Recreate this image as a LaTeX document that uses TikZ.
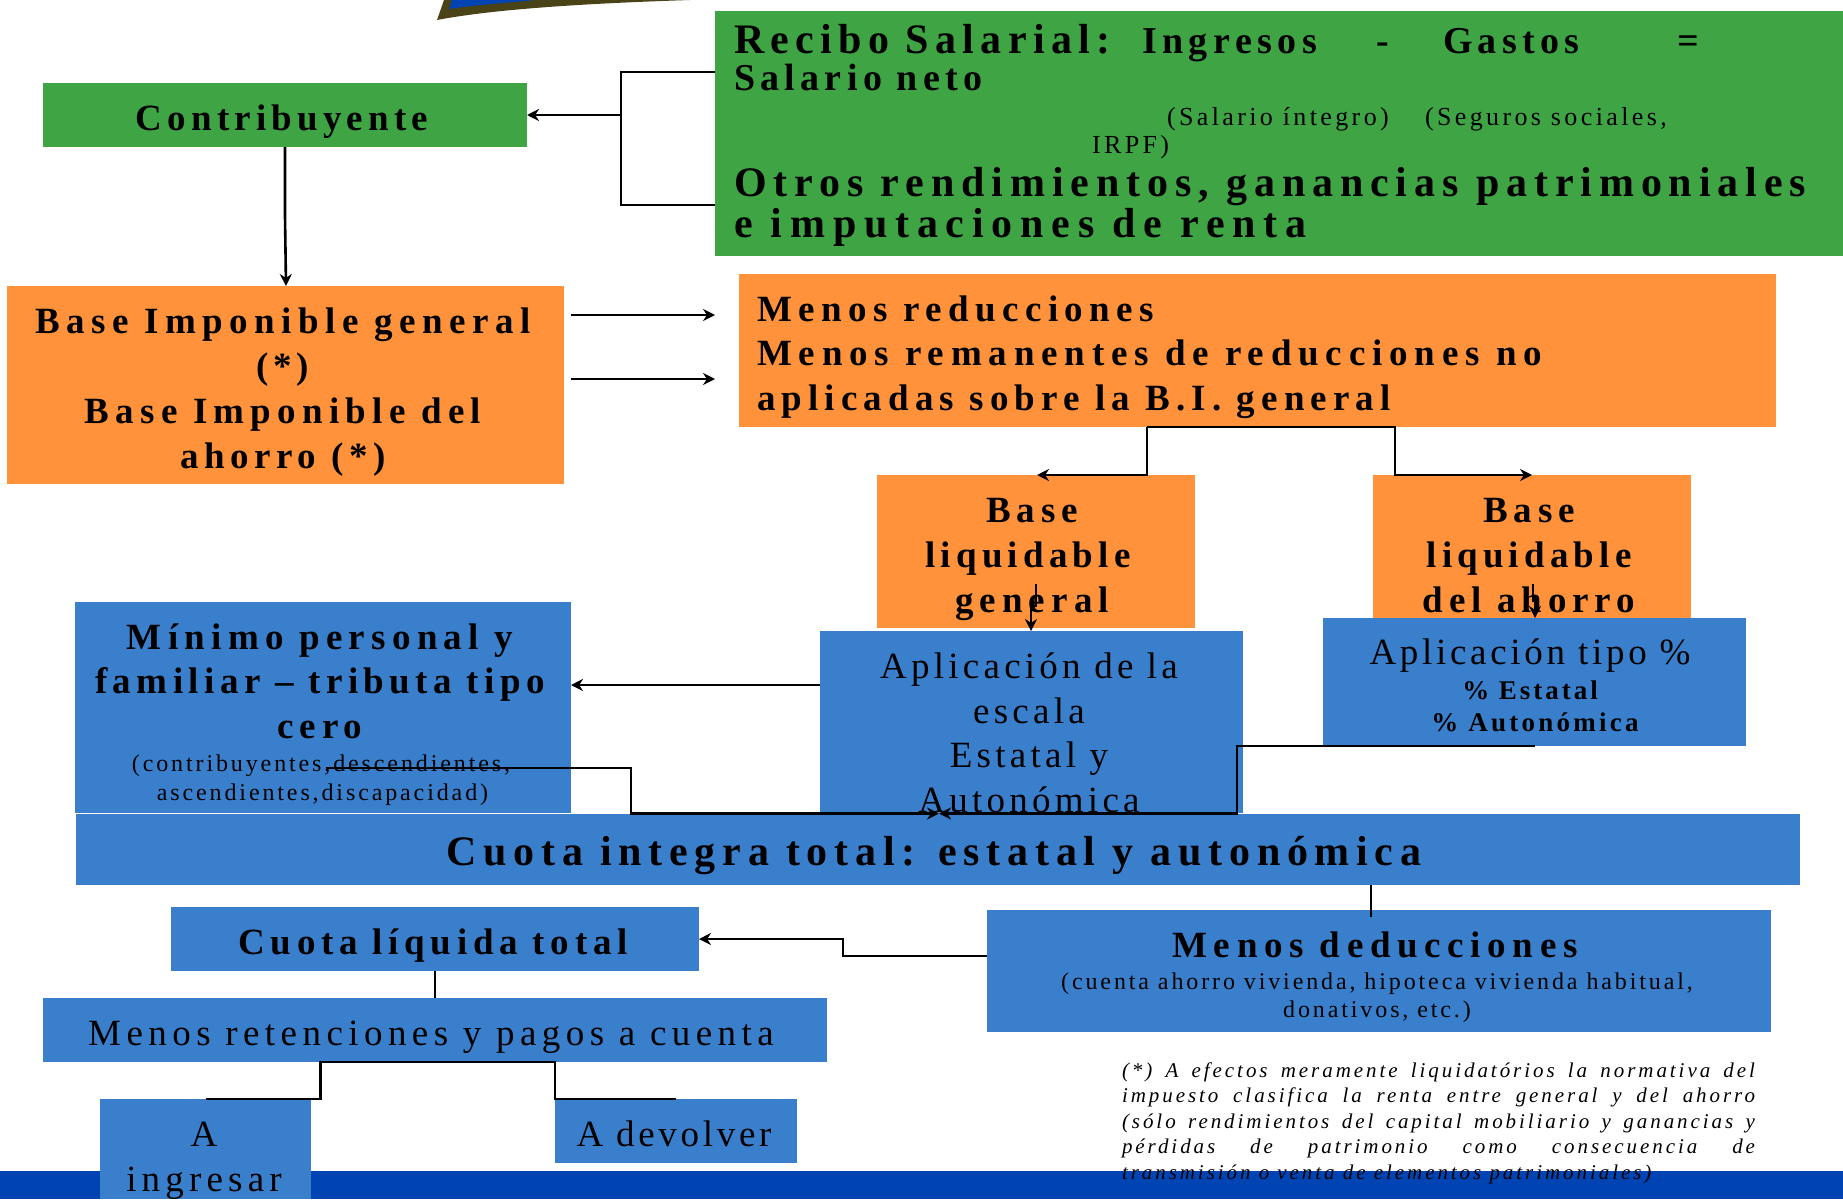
\documentclass[tikz,border=0pt]{standalone}
\usepackage{fontspec}
\setmainfont{Liberation Serif}
\usetikzlibrary{arrows.meta}
\definecolor{cgreen}{RGB}{63,164,68}
\definecolor{corange}{RGB}{255,146,58}
\definecolor{cblue}{RGB}{58,127,204}
\definecolor{cbar}{RGB}{0,68,180}
\definecolor{colive}{RGB}{74,67,24}
\newcommand{\fnt}[3]{\fontsize{#1}{#2}\selectfont\addfontfeature{LetterSpace=#3}}
\newcommand{\lsp}[2]{{\addfontfeature{LetterSpace=#1}#2}}
\tikzset{
  box/.style={inner sep=0pt,outer sep=0pt,anchor=north west},
  txt/.style={inner sep=0pt,outer sep=0pt,anchor=base,align=center,text=black},
  txl/.style={inner sep=0pt,outer sep=0pt,anchor=base west,align=left,text=black},
  conn/.style={line width=2.6pt,draw=black},
  arr/.style={conn,-{Stealth[length=12pt,width=12pt]}},
}
\newcommand{\bx}[6]{\node[box,fill=#6,minimum width=#4pt-#2pt,minimum height=#5pt-#3pt] (#1) at (#2,#3) {};}
\begin{document}
\begin{tikzpicture}[x=1pt,y=-1pt]
\useasboundingbox (0,0) rectangle (1843,1199);
% logo fragment
\fill[colive] (437,20) -- (444,0) -- (690,0) .. controls (600,3) and (500,8) .. (437,20) -- cycle;
\fill[cbar] (449,9) -- (452,0) -- (535,0) .. controls (505,3) and (475,5) .. (449,9) -- cycle;
% bottom bar
\fill[cbar] (0,1171) rectangle (1843,1199);
% boxes
\bx{green}{715}{11}{1843}{256}{cgreen}
\bx{contrib}{43}{83}{527}{147}{cgreen}
\bx{baseimp}{7}{286}{564}{484}{corange}
\bx{reduc}{739}{274}{1776}{427}{corange}
\bx{liqgen}{877}{475}{1195}{628}{corange}
\bx{liqaho}{1373}{475}{1691}{618}{corange}
\bx{minimo}{75}{602}{571}{813}{cblue}
\bx{escala}{820}{631}{1243}{813}{cblue}
\bx{tipo}{1323}{618}{1746}{746}{cblue}
\bx{integra}{76}{814}{1800}{885}{cblue}
\bx{liquida}{171}{907}{699}{971}{cblue}
\bx{deduc}{987}{910}{1771}{1032}{cblue}
\bx{reten}{43}{998}{827}{1062}{cblue}
\bx{ingresar}{100}{1099}{311}{1199}{cblue}
\bx{devolver}{555}{1099}{797}{1163}{cblue}
% texts
\node[txl,font=\fnt{42}{42}{15}\bfseries] (t1) at (734,53) {Recibo Salarial:};
\node[txl,font=\fnt{38}{38}{14.5}\bfseries] (t2) at (1142,53) {Ingresos};
\node[txl,font=\fnt{38}{38}{14}\bfseries] (t3) at (1376,53) {-};
\node[txl,font=\fnt{38}{38}{14}\bfseries] (t4) at (1443,53) {Gastos};
\node[txl,font=\fnt{38}{38}{14}\bfseries] (t5) at (1677,53) {=};
\node[txl,font=\fnt{38}{38}{14}\bfseries] (t6) at (734,90) {Salario neto};
\node[txl,font=\fnt{26}{26}{13}] (t7) at (1167,125) {(Salario íntegro)};
\node[txl,font=\fnt{26}{26}{13}] (t8) at (1425,125) {(Seguros sociales,};
\node[txl,font=\fnt{26}{26}{13}] (t9) at (1092,153) {IRPF)};
\node[txl,font=\fnt{42}{40.5}{16}\bfseries] (t10) at (734,237) {\lsp{16.4}{Otros rendimientos, ganancias patrimoniales}\\\lsp{18.5}{e imputaciones de renta}};
\node[txt,font=\fnt{37}{45}{14}\bfseries] (contribt) at (282,130) {Contribuyente};
\node[txt,font=\fnt{37}{45}{17}\bfseries] (baseimpt) at (283,468) {\lsp{17.5}{Base Imponible general}\\\lsp{12}{(*)}\\Base Imponible del\\\lsp{15}{ahorro (*)}};
\node[txl,font=\fnt{37}{44.5}{17}\bfseries] (reduct) at (757,410) {\lsp{17.4}{Menos reducciones}\\\lsp{18.5}{Menos remanentes de reducciones no}\\\lsp{16.6}{aplicadas sobre la B.I. general}};
\node[txt,font=\fnt{37}{45}{16}\bfseries] (liqgent) at (1032,612) {Base\\\hspace*{-8pt}\lsp{14}{liquidable}\\\lsp{16.5}{general}};
\node[txt,font=\fnt{37}{45}{16}\bfseries] (liqahot) at (1529,612) {Base\\\lsp{14}{liquidable}\\del ahorro};
\node[txt,font=\fnt{37}{44.7}{11.5}] (escalat) at (1029,812.5) {Aplicación de la\\escala\\Estatal y\\Autonómica};
\node[txt,font=\fnt{27}{32}{12}\bfseries] (tipot) at (1530,731) {{\fnt{37}{35}{10}\mdseries Aplicación tipo \%}\\[3pt]\lsp{11}{\% Estatal}\\\hspace*{10pt}\% Autonómica};
\node[txt,font=\fnt{37}{44.5}{16}\bfseries] (minimot) at (320,738) {\lsp{17}{Mínimo personal y}\\\lsp{14.7}{familiar – tributa tipo}\\cero};
\node[txt,font=\fnt{24}{29}{12}] (minimos) at (321,800) {(contribuyentes,descendientes,\\\hspace*{3pt}ascendientes,discapacidad)};
\node[txt,font=\fnt{42}{45}{16}\bfseries] (integrat) at (934,865) {Cuota integra total: estatal y autonómica};
\node[txt,font=\fnt{37}{45}{15.4}\bfseries] (liquidat) at (433,954) {Cuota líquida total};
\node[txt,font=\fnt{37}{45}{14.7}] (retent) at (431,1045) {Menos retenciones y pagos a cuenta};
\node[txt,font=\fnt{37}{44.5}{14}] (ingresart) at (204,1191) {A\\ingresar};
\node[txt,font=\fnt{37}{45}{10}] (devolvert) at (674,1146) {A devolver};
\node[txt,font=\fnt{37}{45}{18}\bfseries] (deduct) at (1375,957) {Menos deducciones};
\node[txt,font=\fnt{24}{28.5}{12}] (deducs) at (1377,1017.5) {(cuenta ahorro vivienda, hipoteca vivienda habitual,\\donativos, etc.)};
\node[txl,font=\fnt{21}{25.5}{14}\itshape] (nota) at (1122,1179) {\makebox[633pt][s]{(*) A efectos meramente liquidatórios la normativa del}\\
\makebox[633pt][s]{impuesto clasifica la renta entre general y del ahorro}\\
\makebox[633pt][s]{(sólo rendimientos del capital mobiliario y ganancias y}\\
\makebox[633pt][s]{pérdidas de patrimonio como consecuencia de}\\
transmisión o venta de elementos patrimoniales)};
% connectors
\coordinate (brk) at (621,115);
\draw[conn] (green.west |- 0,72) -| (brk) |- (green.west |- 0,205);
\draw[arr] (brk) -- (contrib.east |- brk);
\draw[arr] (contrib.south -| 285,0) -- (285,216) -- (baseimp.north -| 286,0);
\coordinate (a1s) at (571,315);
\coordinate (a1e) at (715,315);
\coordinate (a2s) at (571,379);
\coordinate (a2e) at (715,379);
\draw[arr] (a1s) -- (a1e);
\draw[arr] (a2s) -- (a2e);
\coordinate (lgt) at (1037,475);
\coordinate (lat) at (1532,475);
\draw[arr] (reduc.south -| 1147,0) -- (reduc.south -| 1395,0) -- (1395,475) -- (lat);
\draw[arr] (reduc.south -| 1147,0) -- (1147,475) -- (lgt);
\coordinate (g1) at (1036,584);
\coordinate (g2) at (1036,606);
\draw[arr] (g1) -- (g2) -- (1031,606) -- (escala.north -| 1031,0);
\coordinate (h1) at (1533,584);
\draw[arr] (h1) -- (1533,601) -- (1535,601) -- (tipo.north -| 1535,0);
\draw[arr] (tipo.south -| 1535,0) -- (1237,746) -- (1237,813.5) -- (939,813.5);
\coordinate (m1) at (326,768);
\draw[arr] (m1) -- (631,768) -- (631,813.5) -- (939,813.5);
\draw[arr] (escala.west |- 0,685) -- (minimo.east |- 0,685);
\draw[conn] (integra.south -| 1371,0) -- (1371,917);
\draw[arr] (deduc.west |- 0,956) -- (843,956) -- (843,939) -- (liquida.east |- 0,939);
\draw[conn] (liquida.south -| 435,0) -- (reten.north -| 435,0);
\coordinate (ri) at (206,1099);
\coordinate (rd) at (676,1099);
\draw[conn] (ri) -- (320.5,1099) -- (320.5,1062) -- (555,1062) -- (555,1099) -- (rd);
\end{tikzpicture}
\end{document}
